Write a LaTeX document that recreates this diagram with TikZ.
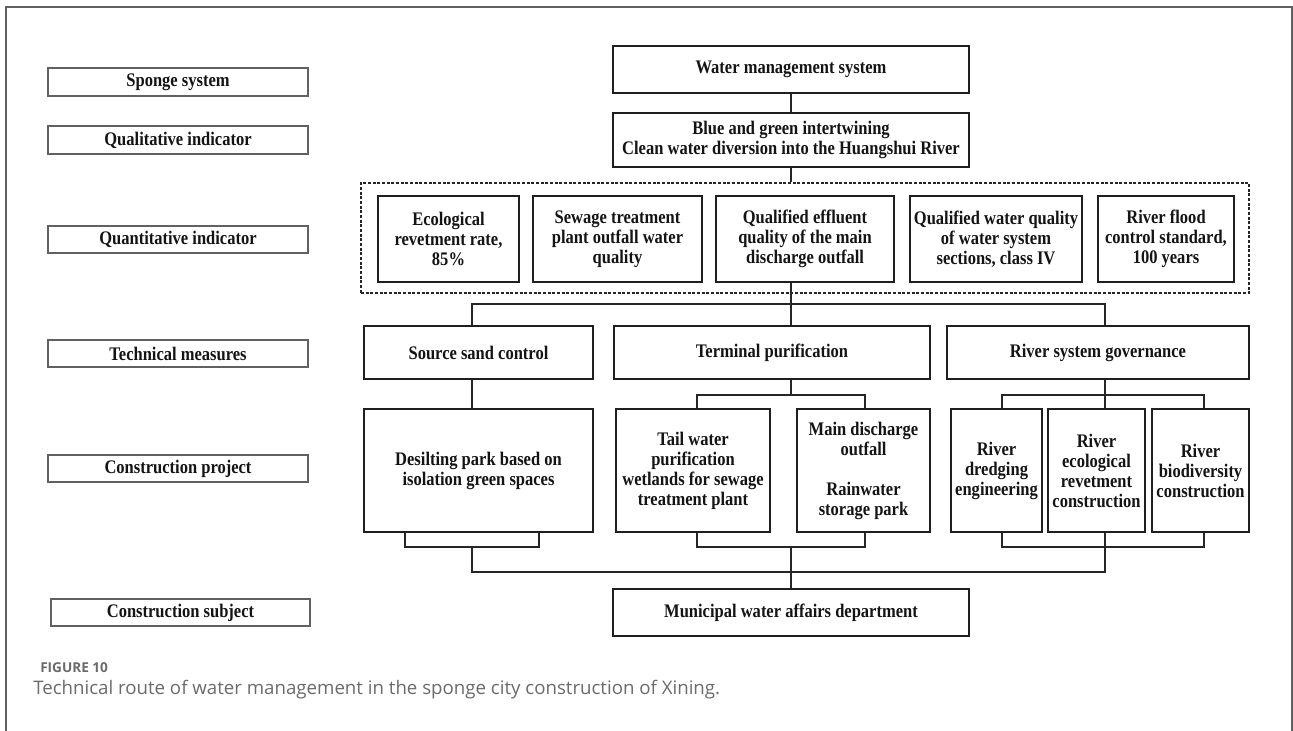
\documentclass[tikz,border=0pt]{standalone}
\usepackage{fontspec}
\setmainfont{Liberation Serif}[FakeStretch=0.86]
\newfontfamily\capfont{Open Sans}
\usetikzlibrary{calc}
\newcommand\diagfont{\fontsize{14.4pt}{15pt}\selectfont\bfseries}
% \rectnode[style]{name}{x1}{y1}{x2}{y2}{text}: a box given by its corners (px units)
\newcommand\rectnode[7][box]{%
  \node[#1, minimum width={(#5-#3)*0.75pt}, minimum height={(#6-#4)*0.75pt}]
    (#2) at ({(#3+#5)/2},{(#4+#6)/2}) {#7};}
\begin{document}
\begin{tikzpicture}[x=0.75pt,y=-0.75pt,
  box/.style={draw=black!88, line width=1.05pt, inner sep=0pt, align=center,
    font=\diagfont, text=black!92},
  levelbox/.style={draw=black!62, line width=0.8pt, inner sep=0pt, align=center,
    font=\diagfont, text=black!92},
  groupbox/.style={draw=black!85, line width=0.8pt, dash pattern=on 2.2pt off 1.3pt,
    inner sep=0pt},
  link/.style={draw=black!85, line width=0.95pt},
  frame/.style={draw=black!62, line width=1.1pt}]
\useasboundingbox (0,0) rectangle (1293,731);
\fill[white] (0,0) rectangle (1293,731);
\draw[frame] (6,731) -- (6,7) -- (1292,7) -- (1292,731);

% level labels
\rectnode[levelbox]{lv1}{48}{68}{308}{96}{Sponge system}
\rectnode[levelbox]{lv2}{48}{126}{308}{154}{Qualitative indicator}
\rectnode[levelbox]{lv3}{48}{226}{308}{253}{Quantitative indicator}
\rectnode[levelbox]{lv4}{48}{340}{308}{367}{Technical measures}
\rectnode[levelbox]{lv5}{48}{455}{308}{482}{Construction project}
\rectnode[levelbox]{lv6}{51}{599}{310}{626}{Construction subject}

% system and qualitative goal
\rectnode{wm}{613}{46}{969}{93}{Water management system}
\rectnode{bg}{613}{113}{969}{167}{Blue and green intertwining\\Clean water diversion into the Huangshui River}

% quantitative indicators
\rectnode[groupbox]{qbox}{361}{183}{1249}{293}{}
\rectnode{q1}{378}{196}{519}{282}{Ecological\\revetment rate,\\85\%}
\rectnode{q2}{533}{196}{702}{282}{Sewage treatment\\plant outfall water\\quality}
\rectnode{q3}{716}{196}{894}{282}{Qualified effluent\\quality of the main\\discharge outfall}
\rectnode{q4}{910}{196}{1082}{282}{Qualified water quality\\of water system\\sections, class IV}
\rectnode{q5}{1098}{196}{1234}{282}{River flood\\control standard,\\100 years}

% technical measures
\rectnode{src}{364}{326}{593}{379}{Source sand control}
\rectnode{term}{614}{326}{930}{379}{Terminal purification}
\rectnode{gov}{947}{326}{1249}{379}{River system governance}

% construction projects
\rectnode{des}{364}{409}{593}{532}{Desilting park based on\\isolation green spaces}
\rectnode{tail}{616}{409}{770}{532}{Tail water\\purification\\wetlands for sewage\\treatment plant}
\rectnode{main}{797}{409}{930}{532}{Main discharge\\outfall\\[15pt]Rainwater\\storage park}
\rectnode{dred}{951}{409}{1042}{532}{River\\dredging\\engineering}
\rectnode{eco}{1048}{409}{1145}{532}{River\\ecological\\revetment\\construction}
\rectnode{bio}{1152}{409}{1249}{532}{River\\biodiversity\\construction}

% construction subject
\rectnode{mun}{613}{589}{969}{636}{Municipal water affairs department}

% junction points of the tree
\coordinate (busL) at (472,304);
\coordinate (busR) at (1105,304);
\coordinate (tL) at (697,395);
\coordinate (tR) at (865,395);
\coordinate (rL) at (1002,395);
\coordinate (rR) at (1204,395);
\coordinate (dL) at (405,547);
\coordinate (dR) at (539,547);
\coordinate (pL) at (697,547);
\coordinate (pR) at (865,547);
\coordinate (sL) at (1002,547);
\coordinate (sR) at (1204,547);
\coordinate (baseL) at (472,572);
\coordinate (baseR) at (1105,572);

% top of the tree
\draw[link] (wm.south) -- (bg.north);
\draw[link] (bg.south) -- (qbox.north -| bg.south);
\draw[link] (q3.south -| bg.south) -- (term.north -| bg.south);
\draw[link] (src.north -| busL) -- (busL) -- (busR) -- (gov.north -| busR);

% measures to projects
\draw[link] (src.south -| busL) -- (des.north -| busL);
\draw[link] (term.south -| bg.south) -- (tL -| bg.south);
\draw[link] (tail.north -| tL) -- (tL) -- (tR) -- (main.north -| tR);
\draw[link] (gov.south -| busR) -- (eco.north -| busR);
\draw[link] (dred.north -| rL) -- (rL) -- (rR) -- (bio.north -| rR);

% projects to the subject
\draw[link] (des.south -| dL) -- (dL) -- (dR) -- (des.south -| dR);
\draw[link] (tail.south -| pL) -- (pL) -- (pR) -- (main.south -| pR);
\draw[link] (dred.south -| sL) -- (sL) -- (sR) -- (bio.south -| sR);
\draw[link] (dL -| baseL) -- (baseL) -- (baseR) -- (eco.south -| baseR);
\draw[link] (pL -| mun.north) -- (mun.north);

% caption
\node[anchor=base west, inner sep=0pt, text=black!58,
  font={\capfont\bfseries\fontsize{10.2pt}{12pt}\selectfont}] (fig) at (40,672) {FIGURE 10};
\node[anchor=base west, inner sep=0pt, text=black!58,
  font={\capfont\fontsize{14pt}{16pt}\selectfont}] (cap) at (33,694)
  {Technical route of water management in the sponge city construction of Xining.};
\end{tikzpicture}
\end{document}
